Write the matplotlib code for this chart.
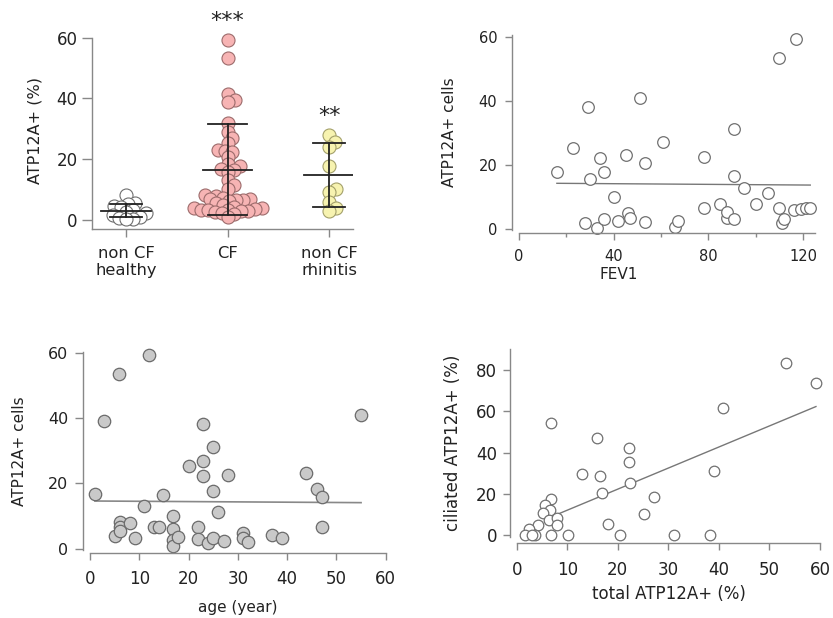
import numpy as np
import matplotlib
matplotlib.use('Agg')
import matplotlib.pyplot as plt
from matplotlib.ticker import MultipleLocator

plt.rcParams['font.family'] = ['DejaVu Sans']
plt.rcParams['text.color'] = '#222222'
plt.rcParams['axes.labelcolor'] = '#222222'
plt.rcParams['xtick.color'] = '#888888'
plt.rcParams['ytick.color'] = '#888888'
plt.rcParams['xtick.labelcolor'] = '#222222'
plt.rcParams['ytick.labelcolor'] = '#222222'

# Panel A: ATP12A+ (%) per group
group_names = ['non CF\nhealthy', 'CF', 'non CF\nrhinitis']
healthy_vals = [8.0, 5.5, 5.0, 4.6, 4.2, 3.2, 2.6, 2.2, 1.4, 0.8, 0.5, 0.3, 0.2]
cf_vals = [59.3, 53.3, 41.3, 39.4, 38.8, 31.8, 29.0, 27.0, 25.3, 23.0, 22.6, 22.3,
           20.5, 18.2, 17.8, 16.7, 16.4, 15.7, 13.1, 11.3, 10.1, 8.1, 7.8, 7.2,
           6.7, 6.7, 6.6, 6.5, 6.0, 5.5, 4.9, 4.2, 3.9, 3.7, 3.4, 3.3, 3.2, 3.2,
           2.9, 2.7, 2.4, 2.1, 1.9, 0.9]
rhinitis_vals = [28.0, 25.5, 24.0, 17.8, 10.0, 9.0, 5.8, 3.8, 2.8]
group_mean = [2.9, 16.5, 14.7]
group_sd = [2.2, 15.0, 10.5]
group_stars = ['', '***', '**']

# Panel B: FEV1 vs ATP12A+ cells
fev1 = [16, 23, 29, 28, 30, 34, 33, 36, 36, 40, 42, 45, 46, 47, 51, 53, 53, 61,
        66, 67, 78, 78, 85, 88, 88, 91, 91, 91, 95, 100, 105, 110, 110, 111,
        112, 116, 117, 119, 121, 123]
fev1_cells = [18.0, 25.5, 38.3, 2.1, 15.7, 22.3, 0.3, 17.8, 3.2, 10.1, 2.6, 23.1,
              5.2, 3.4, 40.9, 20.6, 2.4, 27.1, 0.6, 2.7, 22.5, 6.7, 7.9, 3.6,
              5.3, 31.2, 16.6, 3.1, 13.0, 7.9, 11.2, 53.3, 6.7, 2.1, 3.2, 6.0,
              59.4, 6.3, 6.5, 6.7]
fev1_fit_x = [16, 123]
fev1_fit_y = [14.35, 13.8]

# Panel C: age vs ATP12A+ cells
age = [1.0, 2.9, 5.9, 12.0, 5.1, 6.0, 6.0, 6.1, 8.1, 9.1, 11.0, 13.0, 14.0, 14.9,
       16.9, 16.9, 16.9, 16.9, 17.9, 20.0, 22.0, 22.0, 22.9, 22.9, 22.9, 24.0,
       25.0, 25.0, 25.0, 26.0, 27.1, 28.1, 31.0, 31.0, 32.0, 37.0, 38.9, 43.8,
       46.0, 47.0, 47.0, 54.9]
age_cells = [16.7, 39.1, 53.4, 59.3, 3.9, 8.1, 6.7, 5.5, 7.8, 3.3, 13.1, 6.7, 6.6,
             16.4, 10.1, 6.0, 2.7, 0.9, 3.7, 25.3, 6.7, 2.9, 38.3, 26.9, 22.3,
             1.9, 31.0, 17.8, 3.2, 11.3, 2.4, 22.6, 4.9, 3.2, 2.1, 4.2, 3.4, 23.1,
             18.2, 15.7, 6.5, 40.9]
age_fit_x = [1, 55]
age_fit_y = [14.6, 14.1]

# Panel D: total vs ciliated ATP12A+ (%)
total_pct = [53.3, 59.2, 40.9, 6.7, 15.8, 22.3, 22.3, 13.0, 16.5, 22.4, 39.1, 16.8,
             27.2, 25.2, 18.0, 20.4, 31.1, 38.2, 10.1, 6.7, 5.6, 6.6, 5.3, 6.3,
             7.9, 7.9, 4.3, 2.5, 1.6, 3.6, 3.0, 6.7]
ciliated_pct = [83.5, 73.5, 61.5, 54.2, 47.3, 42.1, 35.6, 29.7, 28.9, 25.2, 31.1,
                20.6, 18.7, 10.2, 5.3, 0, 0, 0, 0, 17.4, 14.7, 12.3, 10.6, 7.4,
                8.2, 5.0, 5.0, 2.9, 0, 0, 0, 0]
total_fit_x = [7.5, 59.2]
total_fit_y = [9.6, 62.3]

W, H = 833, 618
fig = plt.figure(figsize=(W / 100, H / 100), dpi=100)


def add_axes_px(left, right, top, bottom):
    return fig.add_axes([left / W, 1 - bottom / H, (right - left) / W, (bottom - top) / H])


def style_axes(ax, outward=0):
    for side in ['top', 'right']:
        ax.spines[side].set_visible(False)
    for side in ['left', 'bottom']:
        ax.spines[side].set_color('#888888')
        ax.spines[side].set_linewidth(1.0)
    if outward:
        ax.spines['left'].set_position(('outward', outward))


def swarm_x(ax, xc, vals, min_px):
    # simple beeswarm: place points from low to high, nearest free slot to center
    pts = ax.transData.transform(np.column_stack([np.full(len(vals), xc), vals]))
    order = np.argsort(vals)
    placed = []
    xs = np.zeros(len(vals))
    for i in order:
        px, py = pts[i]
        cx = px
        for k in range(0, 200):
            found = False
            for sgn in ([0] if k == 0 else [1, -1]):
                cand = px + sgn * k * 0.5
                if all((cand - qx) ** 2 + (py - qy) ** 2 >= min_px ** 2 for qx, qy in placed):
                    cx = cand
                    found = True
                    break
            if found:
                break
        placed.append((cx, py))
        xs[i] = cx
    inv = ax.transData.inverted()
    return inv.transform(np.column_stack([xs, pts[:, 1]]))[:, 0]


# ---------- Panel A ----------
ax1 = add_axes_px(92, 353, 37.7, 229)
style_axes(ax1)
ax1.set_xlim(-0.335, 2.236)
ax1.set_ylim(-3.1, 60)
ax1.set_yticks([0, 20, 40, 60])
ax1.set_xticks([0, 1, 2])
ax1.set_xticklabels(group_names, fontsize=11.8, linespacing=1.2)
ax1.tick_params(axis='y', length=7, width=1, pad=3.5, labelsize=12)
ax1.tick_params(axis='x', length=6, width=1, pad=6)
ax1.set_ylabel('ATP12A+ (%)', fontsize=11.5)
ax1.yaxis.set_label_coords(-0.19, 0.517)

face_cols = ['white', '#f7b4b4', '#f7f3b0']
edge_cols = ['#6e6e6e', '#9c6b6b', '#a3a06a']
for i, vals in enumerate([healthy_vals, cf_vals, rhinitis_vals]):
    xs = swarm_x(ax1, i, np.array(vals), 6.8)
    ax1.scatter(xs, vals, s=88, facecolor=face_cols[i], edgecolor=edge_cols[i],
                linewidths=0.8, zorder=2, clip_on=False)
    m, sd = group_mean[i], group_sd[i]
    cap = 0.19 if i == 1 else 0.16
    ax1.plot([i - 0.245, i + 0.245], [m, m], color='#222222', lw=1.3, zorder=3)
    ax1.plot([i, i], [m - sd, m + sd], color='#222222', lw=1.3, zorder=3)
    ax1.plot([i - cap, i + cap], [m + sd, m + sd], color='#222222', lw=1.3, zorder=3)
    ax1.plot([i - cap, i + cap], [m - sd, m - sd], color='#222222', lw=1.3, zorder=3)
ax1.text(1, 65.5, group_stars[1], ha='center', va='center', fontsize=16, clip_on=False)
ax1.text(2, 34.3, group_stars[2], ha='center', va='center', fontsize=16, clip_on=False)

# ---------- Panel B ----------
ax2 = add_axes_px(519, 815, 35.4, 233.3)
style_axes(ax2, outward=4.8)
ax2.set_xlim(0, 125)
ax2.set_ylim(-1.25, 60.5)
ax2.spines['left'].set_bounds(-0.3, 60.5)
ax2.set_xticks([0, 40, 80, 120])
ax2.xaxis.set_minor_locator(MultipleLocator(20))
ax2.set_yticks([0, 20, 40, 60])
ax2.tick_params(axis='y', length=5.3, width=1, pad=5.5, labelsize=10.5)
ax2.tick_params(axis='x', which='major', length=4.8, width=1, pad=6.5, labelsize=10.5)
ax2.tick_params(axis='x', which='minor', length=3, width=1)
ax2.scatter(fev1, fev1_cells, s=70, facecolor='white', edgecolor='#707070',
            linewidths=0.9, zorder=2, clip_on=False)
ax2.plot(fev1_fit_x, fev1_fit_y, color='#777777', lw=1, zorder=1)
ax2.set_ylabel('ATP12A+ cells', fontsize=11)
ax2.yaxis.set_label_coords(-0.21, 0.509)
ax2.set_xlabel('FEV1', fontsize=11)
ax2.xaxis.set_label_coords(0.338, -0.17)

# ---------- Panel C ----------
ax3 = add_axes_px(90, 385.7, 351.7, 552.7)
style_axes(ax3, outward=4.8)
ax3.set_xlim(0, 60)
ax3.set_ylim(-1.22, 60.3)
ax3.spines['left'].set_bounds(-0.5, 60.3)
ax3.set_xticks(np.arange(0, 61, 10))
ax3.set_yticks([0, 20, 40, 60])
ax3.tick_params(axis='y', length=6, width=1, pad=4.8, labelsize=11.5)
ax3.tick_params(axis='x', length=5.3, width=1, pad=7, labelsize=12)
ax3.scatter(age, age_cells, s=80, facecolor='#c9c9c9', edgecolor='#6b6b6b',
            linewidths=0.9, zorder=2, clip_on=False)
ax3.plot(age_fit_x, age_fit_y, color='#888888', lw=1.2, zorder=1)
ax3.set_ylabel('ATP12A+ cells', fontsize=11)
ax3.yaxis.set_label_coords(-0.213, 0.507)
ax3.set_xlabel('age (year)', fontsize=11)
ax3.xaxis.set_label_coords(0.499, -0.235)

# ---------- Panel D ----------
ax4 = add_axes_px(516.7, 820, 349.3, 543.3)
style_axes(ax4, outward=4.8)
ax4.set_xlim(0, 60)
ax4.set_ylim(-3.87, 90)
ax4.spines['left'].set_bounds(-0.7, 90)
ax4.set_xticks(np.arange(0, 61, 10))
ax4.set_yticks([0, 20, 40, 60, 80])
ax4.tick_params(axis='y', length=5.3, width=1, pad=3.9, labelsize=12)
ax4.tick_params(axis='x', length=4.8, width=1, pad=8, labelsize=12)
ax4.scatter(total_pct, ciliated_pct, s=58, facecolor='white', edgecolor='#707070',
            linewidths=0.9, zorder=2, clip_on=False)
ax4.plot(total_fit_x, total_fit_y, color='#777777', lw=1, zorder=1)
ax4.set_ylabel('ciliated ATP12A+ (%)', fontsize=12)
ax4.yaxis.set_label_coords(-0.18, 0.52)
ax4.set_xlabel('total ATP12A+ (%)', fontsize=12)
ax4.xaxis.set_label_coords(0.502, -0.215)

fig.savefig('out.png', dpi=100)
